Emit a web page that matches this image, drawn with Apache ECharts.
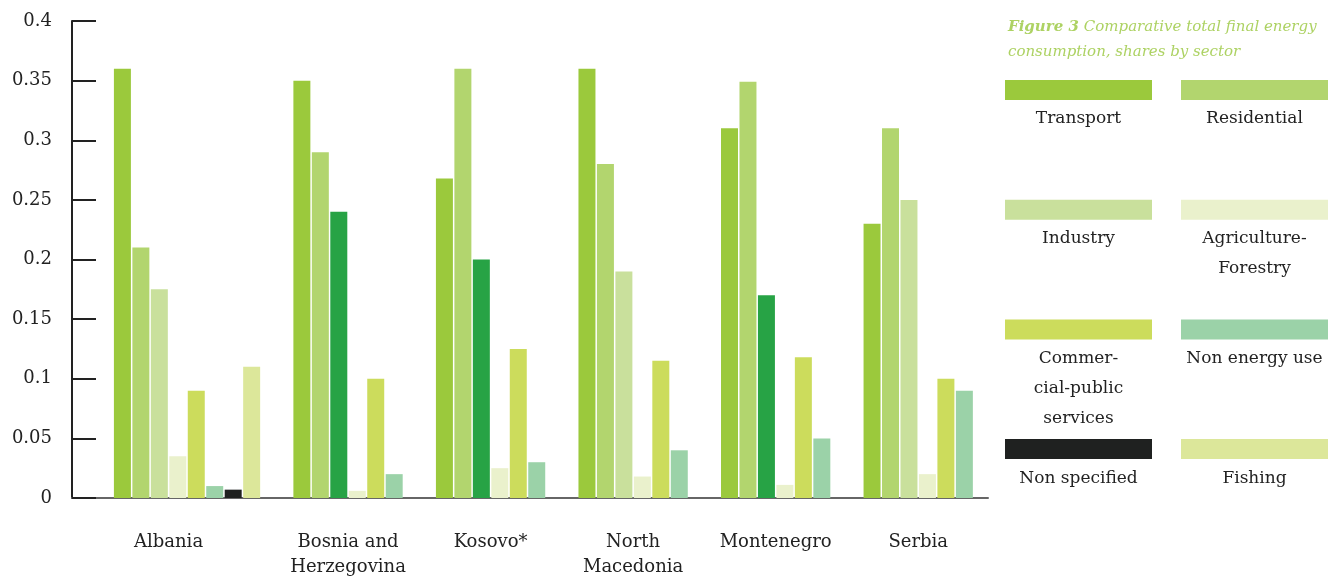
<!DOCTYPE html>
<html>
<head>
<meta charset="utf-8">
<script src="https://cdn.jsdelivr.net/npm/echarts@6/dist/echarts.min.js"></script>
<style>
  html, body { margin: 0; padding: 0; background: #fff; }
  #container { width: 1336px; height: 580px; }
</style>
</head>
<body>
<div id="container"></div>
<script>
var countries = ['Albania', 'Bosnia and\nHerzegovina', 'Kosovo*', 'North\nMacedonia', 'Montenegro', 'Serbia'];

// shares by sector, one value per country (null = no bar)
var transport    = [0.36, 0.35, 0.268, 0.36, 0.31, 0.23];
var residential  = [0.21, 0.29, 0.36, 0.28, 0.349, 0.31];
var industry     = [0.175, null, null, 0.19, null, 0.25];
var industryAlt  = [null, 0.24, 0.2, null, 0.17, null];
var agriculture  = [0.035, 0.006, 0.025, 0.018, 0.011, 0.02];
var commercial   = [0.09, 0.1, 0.125, 0.115, 0.118, 0.1];
var nonEnergy    = [0.01, 0.02, 0.03, 0.04, 0.05, 0.09];
var nonSpecified = [0.007, null, null, null, null, null];
var fishing      = [0.11, null, null, null, null, null];

var yTicks = [0, 0.05, 0.1, 0.15, 0.2, 0.25, 0.3, 0.35, 0.4];

var legendNames = ['Transport', 'Residential', 'Industry', 'Agriculture-\nForestry',
  'Commer-\ncial-public\nservices', 'Non energy use', 'Non specified', 'Fishing'];

var seriesList = [
  { name: 'Transport', data: transport, color: '#9bc93c' },
  { name: 'Residential', data: residential, color: '#b2d56e' },
  { name: 'Industry', data: industry, color: '#c9e09c' },
  { name: 'Industry ', data: industryAlt, color: '#27a345' },
  { name: 'Agriculture-Forestry', data: agriculture, color: '#eaf1cc' },
  { name: 'Commercial-public services', data: commercial, color: '#ccdc5c' },
  { name: 'Non energy use', data: nonEnergy, color: '#9bd2a8' },
  { name: 'Non specified', data: nonSpecified, color: '#1f2120' },
  { name: 'Fishing', data: fishing, color: '#dce79a' }
];
var legendColors = ['#9bc93c', '#b2d56e', '#c9e09c', '#eaf1cc', '#ccdc5c', '#9bd2a8', '#1f2120', '#dce79a'];

// layout in "bar slot" units: bars packed per country, fixed gap between countries
var LEAD = 2.23, GAP = 1.72, TRAIL = 0.78, LABEL_SPAN = 6;
var slotX = seriesList.map(function () { return []; });
var labelCenters = [];
var cursor = LEAD;
countries.forEach(function (c, ci) {
  var start = cursor, n = 0;
  seriesList.forEach(function (s, si) {
    if (s.data[ci] != null) {
      slotX[si][ci] = cursor;
      cursor += 1;
      n++;
    }
  });
  labelCenters.push(start + Math.min(n, LABEL_SPAN) / 2);
  cursor += GAP;
});
var xMax = cursor - GAP + TRAIL;

var font = 'DejaVu Serif';

var series = seriesList.map(function (s, si) {
  var data = [];
  s.data.forEach(function (v, ci) {
    if (v != null) data.push([slotX[si][ci], v]);
  });
  return {
    type: 'custom',
    name: s.name,
    data: data,
    encode: { x: 0, y: 1 },
    renderItem: function (params, api) {
      var x = api.value(0), v = api.value(1);
      var p0 = api.coord([x + 0.04, v]);
      var p1 = api.coord([x + 0.96, 0]);
      return {
        type: 'rect',
        shape: { x: p0[0], y: p0[1], width: p1[0] - p0[0], height: p1[1] - p0[1] },
        style: { fill: s.color }
      };
    }
  };
});

var graphic = [];
legendNames.forEach(function (name, i) {
  var col = i % 2, row = Math.floor(i / 2);
  var x = 1005 + col * 176, y = 80 + row * 119.7;
  graphic.push({
    type: 'rect',
    shape: { x: x, y: y, width: 147, height: 20 },
    style: { fill: legendColors[i] }
  });
  graphic.push({
    type: 'text',
    x: x + 73.5,
    y: y + 24,
    style: {
      text: name,
      fill: '#222',
      fontFamily: font,
      fontSize: 17,
      lineHeight: 30,
      align: 'center',
      verticalAlign: 'top'
    }
  });
});

var dom = document.getElementById('container');
var myChart = echarts.init(dom, null, { renderer: 'canvas' });

var option = {
  animation: false,
  title: {
    left: 1003,
    top: 10,
    text: '{b|Figure 3} {i|Comparative total final energy}\n{i|consumption, shares by sector}',
    textStyle: {
      fontWeight: 'normal',
      rich: {
        b: { fontFamily: font, fontStyle: 'italic', fontWeight: 'bold', fontSize: 15, color: '#add263', lineHeight: 25 },
        i: { fontFamily: font, fontStyle: 'italic', fontWeight: 'normal', fontSize: 15, color: '#add263', lineHeight: 25 }
      }
    }
  },
  grid: { left: 72, right: 348, top: 21, bottom: 82, containLabel: false, outerBoundsMode: 'none' },
  xAxis: {
    type: 'value',
    min: 0,
    max: xMax,
    splitLine: { show: false },
    axisLine: { show: true, lineStyle: { color: '#666', width: 2 } },
    axisTick: { show: false },
    axisLabel: {
      customValues: labelCenters,
      margin: 32,
      fontFamily: font,
      fontSize: 18,
      lineHeight: 25,
      color: '#222',
      formatter: function (v) {
        var best = 0;
        labelCenters.forEach(function (c, i) {
          if (Math.abs(c - v) < Math.abs(labelCenters[best] - v)) best = i;
        });
        return countries[best];
      }
    }
  },
  yAxis: {
    type: 'value',
    min: 0,
    max: 0.4,
    interval: 0.05,
    splitLine: { show: false },
    axisLine: { show: true, lineStyle: { color: '#222', width: 2 } },
    axisTick: { show: true, inside: true, length: 24, lineStyle: { color: '#222', width: 2 } },
    axisLabel: {
      margin: 20,
      fontFamily: font,
      fontSize: 18,
      color: '#222',
      formatter: function (v) {
        var t = yTicks.filter(function (k) { return Math.abs(k - v) < 1e-9; });
        return t.length ? String(t[0]) : '';
      }
    }
  },
  graphic: graphic,
  series: series
};

if (option && typeof option === 'object') {
  myChart.setOption(option);
}
</script>
</body>
</html>
